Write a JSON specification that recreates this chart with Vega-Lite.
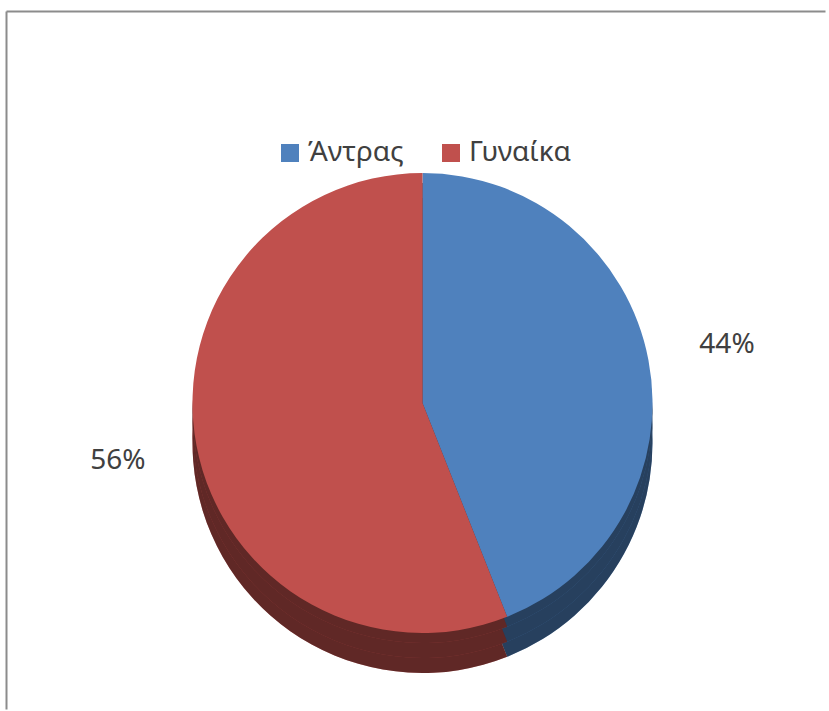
{
  "$schema": "https://vega.github.io/schema/vega-lite/v6.json",
  "width": 829,
  "height": 711,
  "autosize": {"type": "fit", "contains": "padding"},
  "padding": {"left": 6, "top": 11, "right": 4, "bottom": 2},
  "background": "white",
  "config": {
    "view": {"stroke": null},
    "font": "Noto Sans"
  },
  "data": {
    "values": [
      {"sex": "Άντρας", "share": 0.44},
      {"sex": "Γυναίκα", "share": 0.56}
    ]
  },
  "layer": [
    {
      "mark": {"type": "point", "opacity": 0},
      "encoding": {
        "x": {"field": "share", "type": "quantitative", "axis": {"orient": "top", "title": null, "labels": false, "ticks": false, "grid": false, "domainColor": "#8c8c8c", "domainWidth": 2}},
        "y": {"field": "share", "type": "quantitative", "axis": {"orient": "left", "title": null, "labels": false, "ticks": false, "grid": false, "domainColor": "#8c8c8c", "domainWidth": 2}}
      }
    },
    {
      "encoding": {
        "theta": {"field": "share", "type": "quantitative", "stack": true},
        "color": {
          "field": "sex",
          "type": "nominal",
          "scale": {"domain": ["Άντρας", "Γυναίκα"], "range": ["#4f81bd", "#c0504d"]},
          "legend": {
            "title": null,
            "orient": "none",
            "legendX": 270,
            "legendY": 128,
            "direction": "horizontal",
            "symbolType": "square",
            "symbolSize": 324,
            "symbolStrokeWidth": 0,
            "labelFontSize": 28,
            "labelColor": "#404040",
            "labelOffset": 4,
            "columnPadding": 33
          }
        }
      },
      "layer": [
        {"mark": {"type": "arc", "radius": 230, "xOffset": 7, "yOffset": 83}},
        {"mark": {"type": "arc", "radius": 230, "xOffset": 7, "yOffset": 83, "fill": "black", "fillOpacity": 0.5}},
        {"mark": {"type": "arc", "radius": 230, "xOffset": 7, "yOffset": 68}},
        {"mark": {"type": "arc", "radius": 230, "xOffset": 7, "yOffset": 68, "fill": "black", "fillOpacity": 0.5}},
        {"mark": {"type": "arc", "radius": 230, "xOffset": 7, "yOffset": 53}},
        {"mark": {"type": "arc", "radius": 230, "xOffset": 7, "yOffset": 53, "fill": "black", "fillOpacity": 0.5}},
        {"mark": {"type": "arc", "radius": 230, "xOffset": 7, "yOffset": 43}},
        {
          "mark": {"type": "text", "radius": 310, "xOffset": 7, "yOffset": 43, "fontSize": 28, "fill": "#404040"},
          "encoding": {
            "text": {"field": "share", "type": "quantitative", "format": ".0%"}
          }
        }
      ]
    }
  ]
}
